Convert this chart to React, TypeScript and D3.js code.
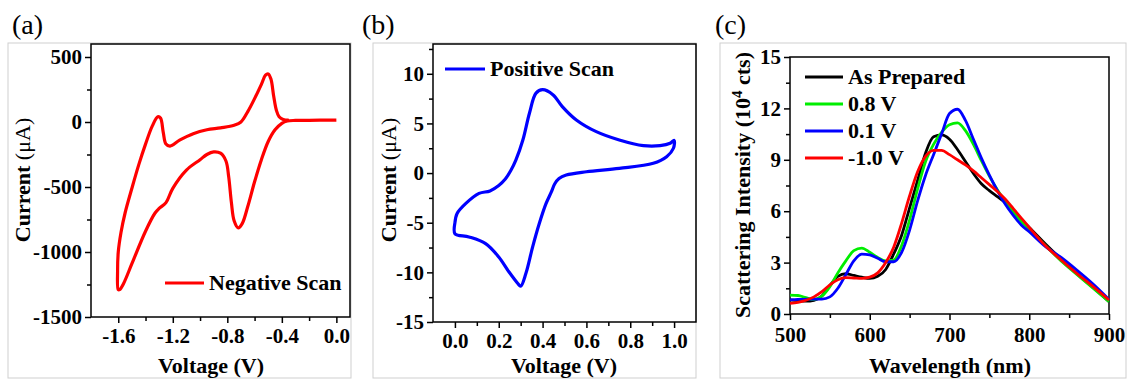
import React, { useEffect, useRef } from 'react';
import * as d3 from 'd3';

// (a) negative scan, points in scan order
const negScanVoltage = [
  0.0, -0.1, -0.2, -0.3, -0.36, -0.4, -0.45, -0.5, -0.55, -0.6, -0.65, -0.69, -0.72, -0.75, -0.77, -0.79,
  -0.81, -0.85, -0.9, -0.95, -1.0, -1.1, -1.2, -1.25, -1.3, -1.33, -1.4, -1.5, -1.56, -1.59, -1.6,
  -1.605, -1.6, -1.58, -1.55, -1.5, -1.45, -1.4, -1.35, -1.31, -1.29, -1.27, -1.25, -1.22, -1.15, -1.05,
  -0.95, -0.85, -0.75, -0.7, -0.65, -0.6, -0.55, -0.52, -0.5, -0.48, -0.46, -0.44, -0.42, -0.39, -0.35,
];
const negScanCurrent = [
  15, 14, 13, 12, 8, -10, -60, -150, -290, -460, -650, -780, -815, -760, -620, -420,
  -300, -240, -230, -250, -290, -370, -510, -620, -665, -700, -840, -1090, -1240, -1290, -1290,
  -1150, -1000, -850, -700, -510, -330, -170, -30, 40, 30, -80, -170, -185, -140, -90,
  -60, -45, -25, 0, 80, 180, 290, 360, 370, 330, 200, 90, 40, 20, 15,
];

// (b) positive scan, points in scan order
const posScanVoltage = [
  0.0, 0.01, 0.05, 0.11, 0.16, 0.2, 0.23, 0.255, 0.278, 0.31, 0.34, 0.37, 0.40, 0.447, 0.49, 0.554, 0.645, 0.75,
  0.86, 0.936, 0.982, 1.0, 0.997, 0.966, 0.905, 0.75, 0.6, 0.508, 0.475, 0.455, 0.44, 0.416, 0.385, 0.355,
  0.324, 0.30, 0.286, 0.247, 0.2, 0.14, 0.064, 0.0, 0.0,
];
const posScanCurrent = [
  -5.0, -4.07, -3.06, -2.05, -1.8, -1.25, -0.6, 0.25, 1.3, 3.33, 6.03, 8.05, 8.4, 7.9, 6.7, 5.35, 4.17, 3.33,
  2.76, 2.76, 3.0, 3.3, 2.5, 1.65, 0.98, 0.47, 0.13, -0.2, -0.55, -1.1, -1.9, -3.06, -5.08, -7.4,
  -10.1, -11.4, -11.1, -9.97, -8.45, -7.1, -6.43, -6.1, -5.0,
];

// (c) scattering spectra
const wavelength = [
  500, 510, 520, 530, 540, 550, 560, 570, 580, 590, 600, 610, 620, 630, 640, 650, 660, 670, 680, 690,
  700, 710, 720, 730, 740, 750, 760, 770, 780, 790, 800, 820, 840, 860, 880, 900,
];
const asPrepared = [
  0.82, 0.78, 0.75, 0.8, 1.05, 1.65, 2.2, 2.35, 2.25, 2.15, 2.08, 2.2, 2.6, 3.5, 4.6, 6.2, 7.8, 9.4, 10.35, 10.45,
  10.2, 9.6, 8.9, 8.2, 7.6, 7.2, 6.85, 6.5, 6.0, 5.5, 5.05, 4.1, 3.2, 2.35, 1.55, 0.72,
];
const v08 = [
  1.1, 1.08, 0.95, 0.85, 1.05, 1.6, 2.4, 3.1, 3.7, 3.85, 3.6, 3.3, 3.1, 3.15, 4.0, 5.5, 7.3, 8.9, 9.9, 10.6,
  11.05, 11.15, 10.7, 9.9, 8.95, 8.05, 7.25, 6.55, 5.95, 5.4, 4.95, 4.0, 3.1, 2.3, 1.5, 0.72,
];
const v01 = [
  0.82, 0.85, 0.86, 0.87, 0.87, 1.0, 1.5, 2.3, 3.1, 3.5, 3.45, 3.25, 3.05, 3.05, 3.6, 4.9, 6.6, 8.1, 9.3, 10.5,
  11.7, 11.95, 11.3, 10.2, 9.1, 8.1, 7.2, 6.4, 5.75, 5.2, 4.8, 3.95, 3.3, 2.55, 1.75, 0.85,
];
const vMinus10 = [
  0.62, 0.68, 0.8, 1.0, 1.3, 1.7, 2.0, 2.12, 2.1, 2.08, 2.15, 2.4, 3.0, 3.9, 5.3, 6.9, 8.3, 9.2, 9.55, 9.55,
  9.3, 9.0, 8.7, 8.35, 7.95, 7.55, 7.15, 6.7, 6.15, 5.6, 5.05, 4.0, 3.15, 2.35, 1.6, 0.82,
];

const spectra = [
  { label: 'As Prepared', color: '#000000', values: asPrepared },
  { label: '0.8 V', color: '#00ee00', values: v08 },
  { label: '0.1 V', color: '#0000ff', values: v01 },
  { label: '-1.0 V', color: '#ff0000', values: vMinus10 },
];

const FONT = '"Liberation Serif", "Times New Roman", serif';
const TICK_FS = 21;
const TITLE_FS = 22;

type Sel = d3.Selection<SVGGElement, unknown, null, undefined>;

interface FrameOpts {
  left: number; right: number; top: number; bottom: number;
  xDomain: [number, number]; yDomain: [number, number];
  xMajor: number[]; xMinor: number[]; yMajor: number[]; yMinor: number[];
  xFmt: (d: number) => string; yFmt: (d: number) => string;
  xPad?: number;
}

function drawFrame(g: Sel, o: FrameOpts) {
  const x = d3.scaleLinear().domain(o.xDomain).range([o.left, o.right]);
  const y = d3.scaleLinear().domain(o.yDomain).range([o.bottom, o.top]);

  const styleAxis = (a: Sel) => {
    a.select('.domain').remove();
    a.selectAll('line').attr('stroke', '#000').attr('stroke-width', 1.5);
    a.selectAll('text')
      .attr('fill', '#000')
      .attr('font-family', FONT)
      .attr('font-weight', 'bold')
      .attr('font-size', TICK_FS);
  };

  g.append('g').attr('transform', `translate(0,${o.bottom})`)
    .call(d3.axisBottom(x).tickValues(o.xMinor).tickSize(4).tickFormat(() => ''))
    .call(styleAxis);
  g.append('g').attr('transform', `translate(0,${o.bottom})`)
    .call(d3.axisBottom(x).tickValues(o.xMajor).tickSize(6).tickPadding(o.xPad ?? 5).tickFormat(d => o.xFmt(+d)))
    .call(styleAxis);
  g.append('g').attr('transform', `translate(${o.left},0)`)
    .call(d3.axisLeft(y).tickValues(o.yMinor).tickSize(4).tickFormat(() => ''))
    .call(styleAxis);
  g.append('g').attr('transform', `translate(${o.left},0)`)
    .call(d3.axisLeft(y).tickValues(o.yMajor).tickSize(6).tickPadding(3).tickFormat(d => o.yFmt(+d)))
    .call(styleAxis);

  g.append('rect')
    .attr('x', o.left).attr('y', o.top)
    .attr('width', o.right - o.left).attr('height', o.bottom - o.top)
    .attr('fill', 'none').attr('stroke', '#000').attr('stroke-width', 1.5);

  return { x, y };
}

function text(g: Sel, x: number, y: number, s: string, size: number, weight = 'bold', anchor = 'start') {
  return g.append('text')
    .attr('x', x).attr('y', y)
    .attr('font-family', FONT).attr('font-size', size)
    .attr('font-weight', weight).attr('text-anchor', anchor)
    .attr('fill', '#000').text(s);
}

function box(g: Sel, x0: number, y0: number, x1: number, y1: number) {
  g.append('rect')
    .attr('x', x0).attr('y', y0).attr('width', x1 - x0).attr('height', y1 - y0)
    .attr('fill', 'none').attr('stroke', '#cfcfcf').attr('stroke-width', 1);
}

export default function App() {
  const gRef = useRef<SVGGElement>(null);

  useEffect(() => {
    if (!gRef.current) return;
    const root = d3.select(gRef.current) as unknown as Sel;
    root.selectAll('*').remove();

    // outer gray boxes + panel letters
    box(root, 8, 43, 351, 378);
    box(root, 373, 43, 696, 378);
    box(root, 720, 43, 1126, 378);
    text(root, 12, 34, '(a)', 28, 'normal');
    text(root, 362, 34, '(b)', 28, 'normal');
    text(root, 715, 34, '(c)', 28, 'normal');

    // ---------- (a)
    const ga = root.append('g');
    const a = drawFrame(ga, {
      left: 91, right: 350, top: 44, bottom: 317,
      xDomain: [-1.8, 0.1], yDomain: [-1500, 600],
      xMajor: [-1.6, -1.2, -0.8, -0.4, 0], xMinor: [-1.4, -1.0, -0.6, -0.2],
      yMajor: [-1500, -1000, -500, 0, 500], yMinor: [-1250, -750, -250, 250],
      xFmt: d => d.toFixed(1), yFmt: d => String(d),
    });
    const lineA = d3.line<number>()
      .x((_, i) => a.x(negScanVoltage[i]))
      .y(d => a.y(d))
      .curve(d3.curveCatmullRom.alpha(0.5));
    ga.append('path').datum(negScanCurrent)
      .attr('fill', 'none').attr('stroke', '#ff0000').attr('stroke-width', 3.2)
      .attr('stroke-linejoin', 'round').attr('d', lineA);
    ga.append('line').attr('x1', 165).attr('x2', 204).attr('y1', 283).attr('y2', 283)
      .attr('stroke', '#ff0000').attr('stroke-width', 3.2);
    text(ga, 209, 290, 'Negative Scan', TITLE_FS);
    text(ga, 211, 373, 'Voltage (V)', TITLE_FS, 'bold', 'middle');
    const ta = text(ga, 0, 0, 'Current ', TITLE_FS, 'bold', 'middle')
      .attr('transform', 'translate(30,180) rotate(-90)');
    ta.append('tspan').attr('font-weight', 'normal').text('(μA)');

    // ---------- (b)
    const gb = root.append('g');
    const b = drawFrame(gb, {
      left: 433, right: 696, top: 44, bottom: 322,
      xDomain: [-0.1, 1.1], yDomain: [-15, 13],
      xMajor: [0, 0.2, 0.4, 0.6, 0.8, 1.0], xMinor: [0.1, 0.3, 0.5, 0.7, 0.9],
      yMajor: [-15, -10, -5, 0, 5, 10], yMinor: [-12.5, -7.5, -2.5, 2.5, 7.5, 12.5],
      xFmt: d => d.toFixed(1), yFmt: d => String(d),
    });
    const lineB = d3.line<number>()
      .x((_, i) => b.x(posScanVoltage[i]))
      .y(d => b.y(d))
      .curve(d3.curveCatmullRom.alpha(0.5));
    gb.append('path').datum(posScanCurrent)
      .attr('fill', 'none').attr('stroke', '#0000ff').attr('stroke-width', 3.2)
      .attr('stroke-linejoin', 'round').attr('d', lineB);
    gb.append('line').attr('x1', 445).attr('x2', 485).attr('y1', 69).attr('y2', 69)
      .attr('stroke', '#0000ff').attr('stroke-width', 3.2);
    text(gb, 490, 76, 'Positive Scan', TITLE_FS);
    text(gb, 564, 373, 'Voltage (V)', TITLE_FS, 'bold', 'middle');
    const tb = text(gb, 0, 0, 'Current ', TITLE_FS, 'bold', 'middle')
      .attr('transform', 'translate(396,180) rotate(-90)');
    tb.append('tspan').attr('font-weight', 'normal').text('(μA)');

    // ---------- (c)
    const gc = root.append('g');
    const c = drawFrame(gc, {
      left: 790, right: 1109, top: 57, bottom: 314,
      xDomain: [500, 900], yDomain: [0, 15],
      xMajor: [500, 600, 700, 800, 900], xMinor: [550, 650, 750, 850],
      yMajor: [0, 3, 6, 9, 12, 15], yMinor: [1.5, 4.5, 7.5, 10.5, 13.5],
      xFmt: d => String(d), yFmt: d => String(d), xPad: 7,
    });
    spectra.forEach(s => {
      const line = d3.line<number>()
        .x((_, i) => c.x(wavelength[i]))
        .y(d => c.y(d))
        .curve(d3.curveMonotoneX);
      gc.append('path').datum(s.values)
        .attr('fill', 'none').attr('stroke', s.color).attr('stroke-width', 2.8)
        .attr('d', line);
    });
    spectra.forEach((s, i) => {
      const yy = 77 + i * 27;
      gc.append('line').attr('x1', 805).attr('x2', 843).attr('y1', yy).attr('y2', yy)
        .attr('stroke', s.color).attr('stroke-width', 3);
      text(gc, 848, yy + 7, s.label, TITLE_FS);
    });
    text(gc, 950, 373, 'Wavelength (nm)', TITLE_FS, 'bold', 'middle');
    const tc = text(gc, 0, 0, 'Scattering Intensity (10', TITLE_FS, 'bold', 'middle')
      .attr('transform', 'translate(750,185) rotate(-90)');
    tc.append('tspan').attr('font-size', 15).attr('dy', -8).text('4');
    tc.append('tspan').attr('dy', 8).text(' cts)');
  }, []);

  return (
    <div style={{ position: 'absolute', left: 0, top: 0 }}>
      <svg width={1128} height={380} style={{ display: 'block', background: '#fff' }}>
        <g ref={gRef} />
      </svg>
    </div>
  );
}
